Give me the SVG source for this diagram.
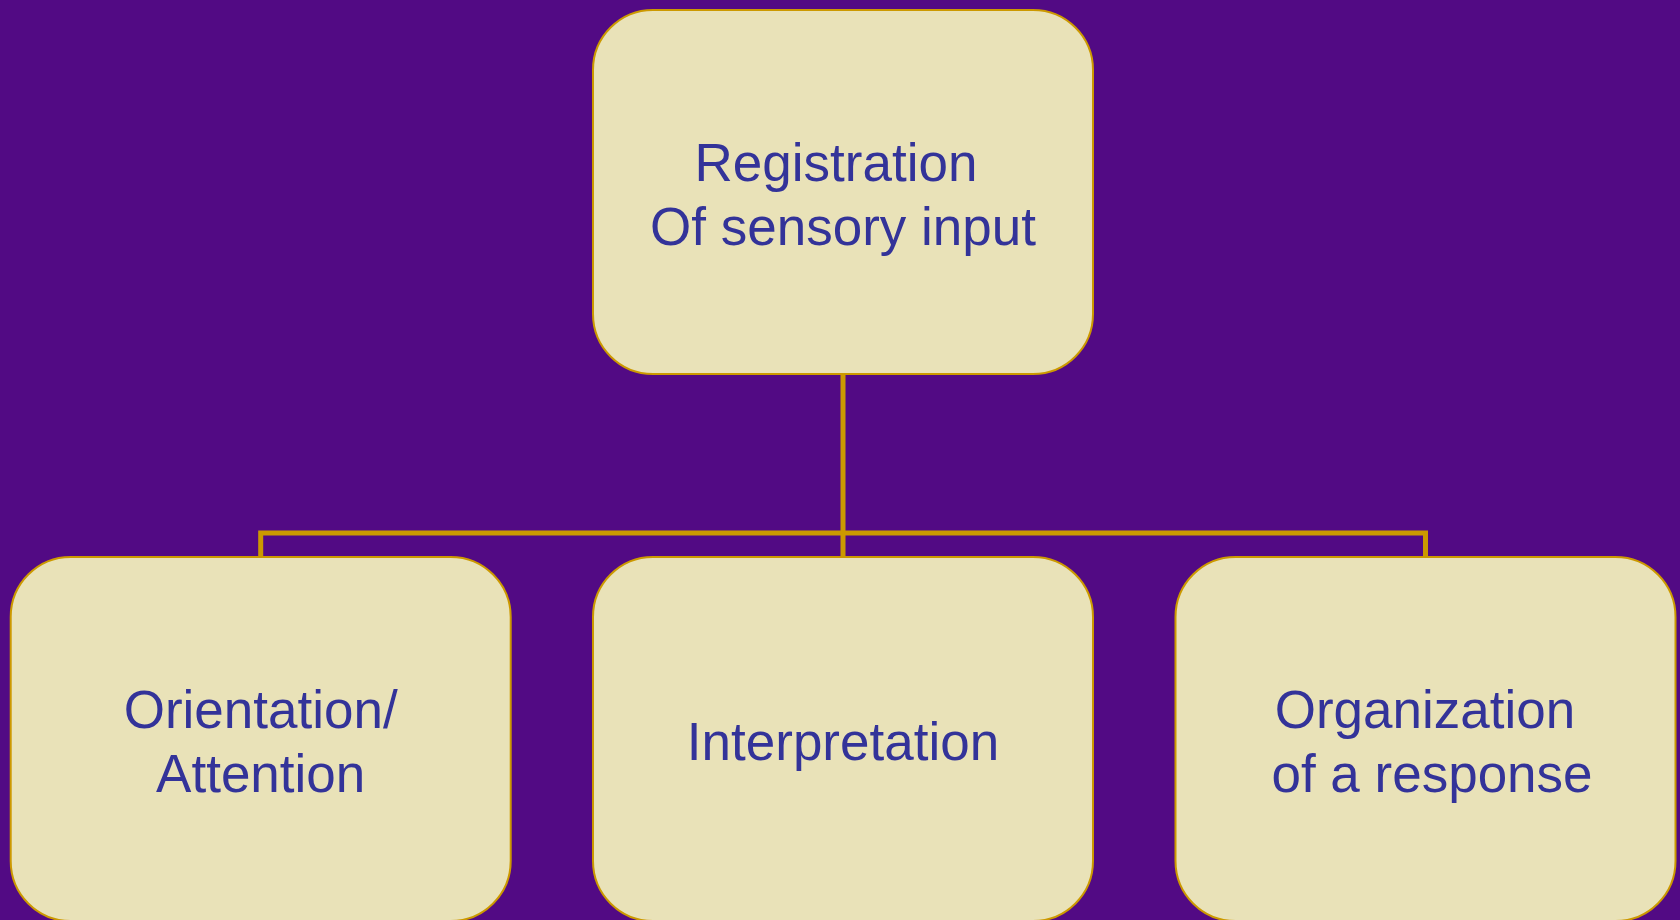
<svg xmlns="http://www.w3.org/2000/svg" width="1680" height="920" viewBox="0 0 1680 920">
<style>
.box{fill:#E9E2B8;stroke:#CC9900;stroke-width:2}
.lbl{font-family:"Liberation Sans",Arial,sans-serif;font-size:53px;fill:#333399;text-anchor:middle}
.conn{fill:none;stroke:#CC9900;stroke-width:5}
</style>
<rect x="0" y="0" width="1680" height="920" fill="#520A84"/>
<g id="connectors">
<path class="conn" d="M843,374 V557"/>
<path class="conn" d="M260.7,557 V533 H1425.5 V557"/>
</g>
<g id="node-registration">
<rect class="box" x="593" y="10" width="500" height="364" rx="60" ry="60"/>
<text class="lbl" x="836" y="181">Registration</text>
<text class="lbl" x="843" y="245">Of sensory input</text>
</g>
<g id="node-orientation">
<rect class="box" x="10.7" y="557" width="500" height="364" rx="60" ry="60"/>
<text class="lbl" x="260.7" y="728">Orientation/</text>
<text class="lbl" x="260.7" y="792">Attention</text>
</g>
<g id="node-interpretation">
<rect class="box" x="593" y="557" width="500" height="364" rx="60" ry="60"/>
<text class="lbl" x="843" y="760">Interpretation</text>
</g>
<g id="node-organization">
<rect class="box" x="1175.5" y="557" width="500" height="364" rx="60" ry="60"/>
<text class="lbl" x="1425" y="728">Organization</text>
<text class="lbl" x="1432" y="792">of a response</text>
</g>
</svg>
